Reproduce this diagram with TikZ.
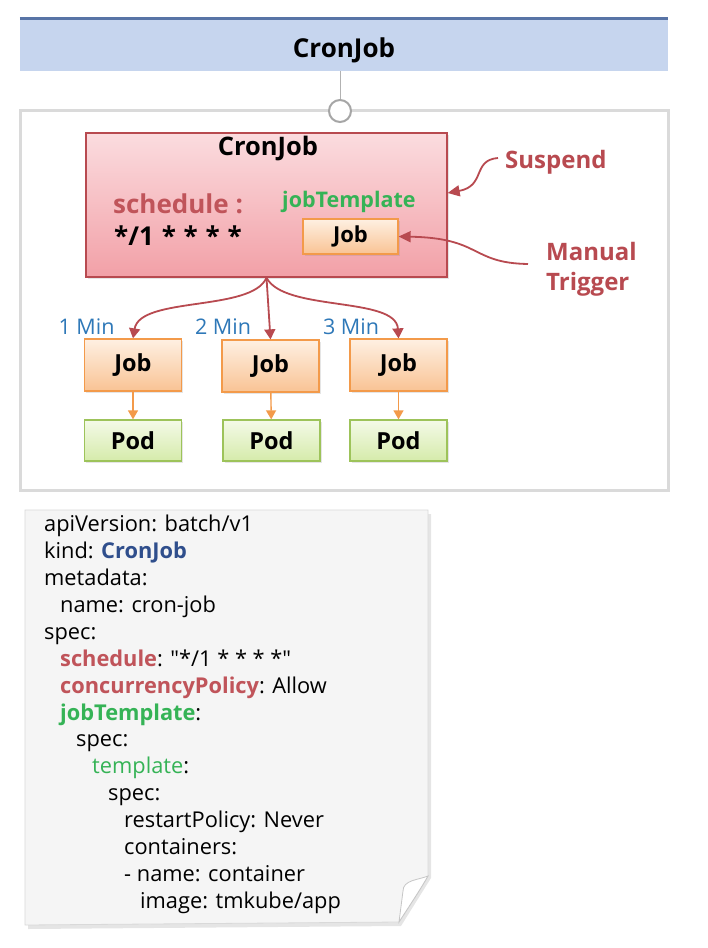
\documentclass[tikz,border=0pt]{standalone}
\usepackage{fontspec}
\setmainfont{Open Sans}
\usetikzlibrary{arrows.meta,shadows}
\definecolor{barblue}{HTML}{C6D5EE}
\definecolor{barline}{HTML}{5874A6}
\definecolor{framegray}{HTML}{DADADA}
\definecolor{cronred}{HTML}{B84A50}
\definecolor{cronlight}{HTML}{FBDCDF}
\definecolor{crondark}{HTML}{F2A0A7}
\definecolor{joborange}{HTML}{F39A4A}
\definecolor{joblight}{HTML}{FEF0E2}
\definecolor{jobdark}{HTML}{F9C394}
\definecolor{podgreen}{HTML}{9DC35A}
\definecolor{podlight}{HTML}{F4FAE8}
\definecolor{poddark}{HTML}{D5EBAA}
\definecolor{keyred}{HTML}{C0545A}
\definecolor{keygreen}{HTML}{35B356}
\definecolor{minblue}{HTML}{2E78B8}
\definecolor{kindblue}{HTML}{2F4E8C}
\definecolor{paper}{HTML}{F5F5F5}
\begin{document}
\begin{tikzpicture}[x=1pt,y=-1pt,
  fsize/.style={font=\fontsize{#1}{#1}\selectfont},
  boldsize/.style={font=\bfseries\fontsize{#1}{#1}\selectfont},
  jobbox/.style={draw=joborange, line width=1.3pt, top color=joblight, bottom color=jobdark,
    minimum width=97pt, minimum height=52pt, inner sep=0pt, boldsize=23.5,
    drop shadow={opacity=0.2, shadow xshift=1.5pt, shadow yshift=-1.5pt}},
  podbox/.style={draw=podgreen, line width=1.3pt, top color=podlight, bottom color=poddark,
    minimum width=97pt, minimum height=41pt, inner sep=0pt, boldsize=23.5,
    drop shadow={opacity=0.2, shadow xshift=1.5pt, shadow yshift=-1.5pt}},
  runarrow/.style={draw=cronred, line width=1.8pt, -{Triangle[length=10pt,width=11pt]}},
  podarrow/.style={draw=joborange, line width=1.4pt, -{Triangle[length=9pt,width=10pt]}},
  notearrow/.style={draw=cronred, line width=1.8pt, -{Triangle[length=12pt,width=11pt]}},
  minlabel/.style={text=minblue, fsize=21.5, inner sep=0pt},
  notelabel/.style={text=cronred, boldsize=24, inner sep=0pt, anchor=base west},
  codeline/.style={anchor=base west, inner sep=0pt,
    font=\fontsize{21.8}{21.8}\selectfont\addfontfeatures{Ligatures=TeXOff}}]
\useasboundingbox (0,0) rectangle (708,948);
\fill[white] (0,0) rectangle (708,948);
\node[fill=barblue, minimum width=648pt, minimum height=52pt, inner sep=0pt] (bar) at (344,45){};
\draw[barline, line width=3pt] (bar.north west) -- (bar.north east);
\node[boldsize=26, inner sep=0pt, anchor=base] (bartitle) at (344,57){CronJob};
\node[draw=framegray, line width=3pt, minimum width=648pt, minimum height=380pt, inner sep=0pt] (frame) at (344,300){};
\node[circle, draw=gray!70, fill=white, line width=2pt, minimum size=22pt, inner sep=0pt] (hook) at (340,111){};
\draw[gray!60, line width=1pt] (bar.south -| hook.north) -- (hook.north);
\node[draw=cronred, line width=1.3pt, top color=cronlight, bottom color=crondark,
  minimum width=361pt, minimum height=144pt, inner sep=0pt,
  drop shadow={opacity=0.2, shadow xshift=1.5pt, shadow yshift=-1.5pt}] (cj) at (266.5,205){};
\node[boldsize=25.5, inner sep=0pt, anchor=base] (cjtitle) at (268,155){CronJob};
\node[text=keyred, boldsize=26, inner sep=0pt, anchor=base west] (sched) at (113,213){schedule :};
\node[boldsize=26, inner sep=0pt, anchor=base west] (cron) at (114,245){*/1\hspace{0.3em}*\hspace{0.3em}*\hspace{0.3em}*\hspace{0.3em}*};
\node[text=keygreen, boldsize=21.5, inner sep=0pt, anchor=base west] (tpl) at (282,207){jobTemplate};
\node[jobbox, minimum height=35pt, minimum width=95pt, boldsize=22] (tjob) at (350.5,236.5){Job};
\node[notelabel] (suspend) at (505,168){Suspend};
\node[notelabel] (manual) at (546,260){Manual};
\node[notelabel] (trigger) at (546,290){Trigger};
\draw[notearrow] (498,158) .. controls (472,160) and (486,186) .. ([yshift=12pt]cj.east);
\draw[notearrow] (528,264) .. controls (470,263) and (482,238) .. (tjob.east);
\node[jobbox] (job1) at (133,365){Job};
\node[jobbox] (job2) at (270.5,366){Job};
\node[jobbox] (job3) at (398.5,365){Job};
\node[podbox] (pod1) at (133,440.5){Pod};
\node[podbox] (pod2) at (271.5,440.5){Pod};
\node[podbox] (pod3) at (398.5,440.5){Pod};
\node[minlabel] (min1) at (86.5,327){1 Min};
\node[minlabel] (min2) at (223,327){2 Min};
\node[minlabel] (min3) at (351,327){3 Min};
\draw[runarrow] (cj.south) .. controls (252,312) and (140,296) .. (job1.north);
\draw[runarrow] (cj.south) -- (job2.north);
\draw[runarrow] (cj.south) .. controls (284,312) and (396,296) .. (job3.north);
\draw[podarrow] (job1) -- (pod1);
\draw[podarrow] (job2) -- (pod2);
\draw[podarrow] (job3) -- (pod3);
\fill[black, opacity=0.1] (28,514) -- (431,514) -- (431,878) -- (401,926) -- (28,929) -- cycle;
\filldraw[fill=paper, draw=gray!30, line width=0.8pt] (25,510) -- (428,510) -- (428,876)
  .. controls (420,890) and (410,905) .. (399,922) -- (25,925) -- cycle;
\filldraw[fill=white, draw=gray!45, line width=0.8pt] (428,876) .. controls (418,880) and (403,880) .. (403,891)
  -- (399,922) .. controls (410,905) and (420,890) .. (428,876) -- cycle;
\node[codeline] (l1) at (44,531){apiVersion: batch/v1};
\node[codeline] (l2) at (44,558){kind: \textcolor{kindblue}{\bfseries CronJob}};
\node[codeline] (l3) at (44,585){metadata:};
\node[codeline] (l4) at (60,612){name: cron-job};
\node[codeline] (l5) at (44,639){spec:};
\node[codeline] (l6) at (60,666){\textcolor{keyred}{\bfseries schedule}: "*/1 * * * *"};
\node[codeline] (l7) at (60,693){\textcolor{keyred}{\bfseries concurrencyPolicy}: Allow};
\node[codeline] (l8) at (60,720){\textcolor{keygreen}{\bfseries jobTemplate}:};
\node[codeline] (l9) at (76,746){spec:};
\node[codeline] (l10) at (92,773){\textcolor{keygreen}{template}:};
\node[codeline] (l11) at (108,800){spec:};
\node[codeline] (l12) at (124,827){restartPolicy: Never};
\node[codeline] (l13) at (124,854){containers:};
\node[codeline] (l14) at (124,881){- name: container};
\node[codeline] (l15) at (140,908){image: tmkube/app};
\end{tikzpicture}
\end{document}
